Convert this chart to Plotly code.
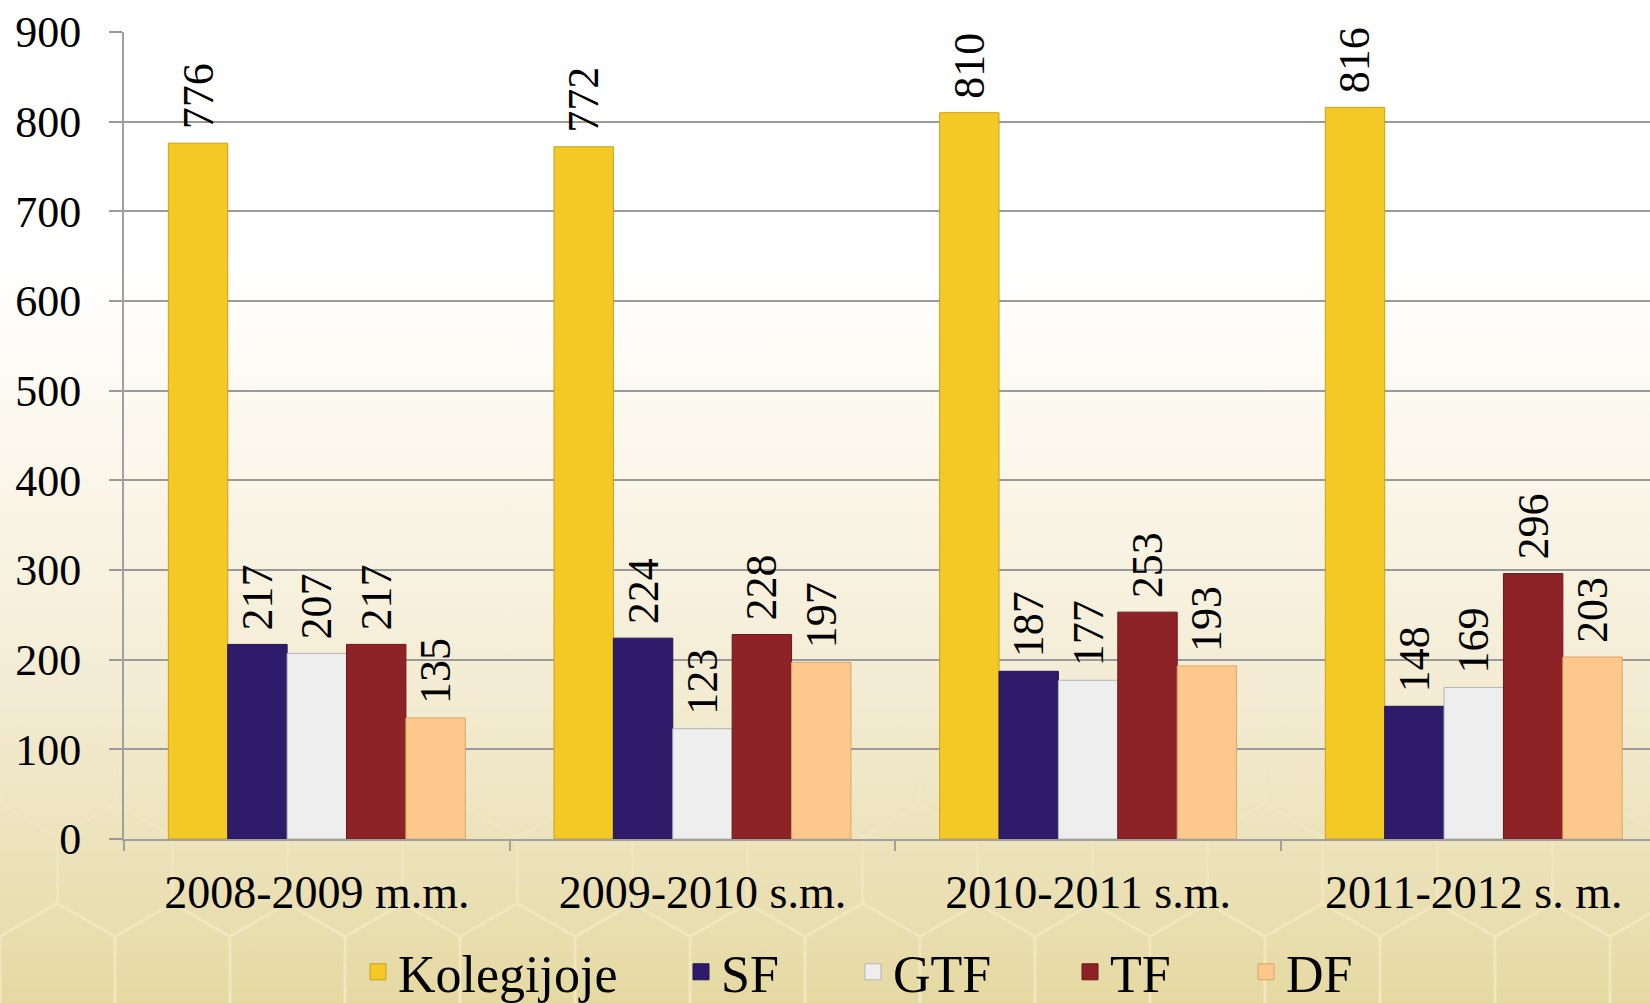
import base64
import math
import plotly.graph_objects as go

# ---------------- data ----------------
categories = ["2008-2009 m.m.", "2009-2010 s.m.", "2010-2011 s.m.", "2011-2012 s. m."]
series_names = ["Kolegijoje", "SF", "GTF", "TF", "DF"]
kolegijoje = [776, 772, 810, 816]
sf = [217, 224, 187, 148]
gtf = [207, 123, 177, 169]
tf = [217, 228, 253, 296]
df = [135, 197, 193, 203]
y_ticks = [0, 100, 200, 300, 400, 500, 600, 700, 800, 900]

series_values = [kolegijoje, sf, gtf, tf, df]
fill_colors = ["#F4C825", "#2E1C6A", "#EEEEEE", "#8E2327", "#FDC88B"]
line_colors = ["#C9A21A", "#22154F", "#B5B5B5", "#6A181B", "#D9A66A"]
legend_widths = [278, 127, 172, 131, 100]

FONT = "Liberation Serif, Times New Roman, serif"
W, H = 1650, 1003
L, R, T, B = 124, 0, 32, 164

fig = go.Figure()
for name, vals, fc, lc in zip(series_names, series_values, fill_colors, line_colors):
    fig.add_trace(go.Bar(
        name=name, x=categories, y=vals,
        marker=dict(color=fc, line=dict(color=lc, width=1)),
        texttemplate="\u00a0%{y}", textposition="outside", textangle=-90,
        textfont=dict(family=FONT, size=44, color="black"),
        constraintext="none", cliponaxis=False, showlegend=False,
    ))

# legend entries (larger square swatches)
for name, fc, lc, lw in zip(series_names, fill_colors, line_colors, legend_widths):
    fig.add_trace(go.Scatter(
        name=name, x=[None], y=[None], mode="markers",
        marker=dict(symbol="square", size=16, color=fc, line=dict(color=lc, width=1)),
        legendwidth=lw, showlegend=True,
    ))

# ---- decorative background: vertical gradient + faint honeycomb ----
hw = 115.0                      # hexagon width (pointy-top)
rr = hw / math.sqrt(3)
hex_paths = []
row = 0
yc = H + rr
while yc > H * 0.45:
    off = (hw / 2) if row % 2 else 0.0
    xc = -hw + off
    while xc < W + hw:
        pts = []
        for k in range(6):
            ang = math.radians(60 * k - 30)
            pts.append(f"{xc + rr * math.cos(ang):.1f},{yc + rr * math.sin(ang):.1f}")
        hex_paths.append("M" + " L".join(pts) + " Z")
        xc += hw
    yc -= 1.5 * rr
    row += 1
hex_d = " ".join(hex_paths)

svg = f'''<svg xmlns="http://www.w3.org/2000/svg" width="{W}" height="{H}" viewBox="0 0 {W} {H}" preserveAspectRatio="none">
<defs>
<linearGradient id="g" x1="0" y1="0" x2="0" y2="1">
<stop offset="0" stop-color="#FFFFFF"/>
<stop offset="0.26" stop-color="#FFFFFF"/>
<stop offset="0.45" stop-color="#FBF7EC"/>
<stop offset="0.70" stop-color="#F3EBD2"/>
<stop offset="1" stop-color="#E5D9A2"/>
</linearGradient>
<linearGradient id="mg" x1="0" y1="0" x2="0" y2="1">
<stop offset="0" stop-color="#000"/>
<stop offset="0.72" stop-color="#000"/>
<stop offset="1" stop-color="#fff"/>
</linearGradient>
<mask id="m"><rect x="0" y="0" width="{W}" height="{H}" fill="url(#mg)"/></mask>
</defs>
<rect x="0" y="0" width="{W}" height="{H}" fill="url(#g)"/>
<path d="{hex_d}" fill="none" stroke="#F6EECB" stroke-opacity="0.75" stroke-width="3" mask="url(#m)"/>
</svg>'''
src = "data:image/svg+xml;base64," + base64.b64encode(svg.encode()).decode()
pw, ph = W - L - R, H - T - B
fig.add_layout_image(dict(
    source=src, xref="paper", yref="paper",
    x=-L / pw, y=1 + T / ph, sizex=W / pw, sizey=H / ph,
    xanchor="left", yanchor="top", sizing="stretch", layer="below",
))

fig.update_layout(
    width=W, height=H,
    margin=dict(l=L, r=R, t=T, b=B, pad=0),
    paper_bgcolor="rgba(0,0,0,0)", plot_bgcolor="rgba(0,0,0,0)",
    barmode="group", bargap=0.23, bargroupgap=0,
    font=dict(family=FONT, color="black"),
    showlegend=True,
    legend=dict(
        orientation="h", xref="container", yref="container",
        x=358 / W, y=1 - 972 / H, xanchor="left", yanchor="middle",
        font=dict(family=FONT, size=52, color="black"),
        bgcolor="rgba(0,0,0,0)", itemwidth=30,
    ),
    xaxis=dict(
        type="category", range=[-0.5, 3.457],
        showgrid=False, showline=True, linecolor="#A0A0A0", linewidth=2,
        ticks="outside", tickson="boundaries", ticklen=10, tickcolor="#A0A0A0", tickwidth=2,
        tickfont=dict(family=FONT, size=46, color="black"), ticklabelstandoff=12,
        fixedrange=True,
    ),
    yaxis=dict(
        range=[0, 900], tickvals=y_ticks,
        showgrid=True, gridcolor="#9A9A9A", gridwidth=2,
        showline=True, linecolor="#A0A0A0", linewidth=2,
        ticks="outside", ticklen=13, tickcolor="#9A9A9A", tickwidth=2,
        tickfont=dict(family=FONT, size=44, color="black"), ticklabelstandoff=19,
        zeroline=False, fixedrange=True,
    ),
)

fig.write_html(
    "out.html",
    config={"displayModeBar": False},
    post_script="document.body.style.margin='0';document.body.style.overflow='hidden';",
)
